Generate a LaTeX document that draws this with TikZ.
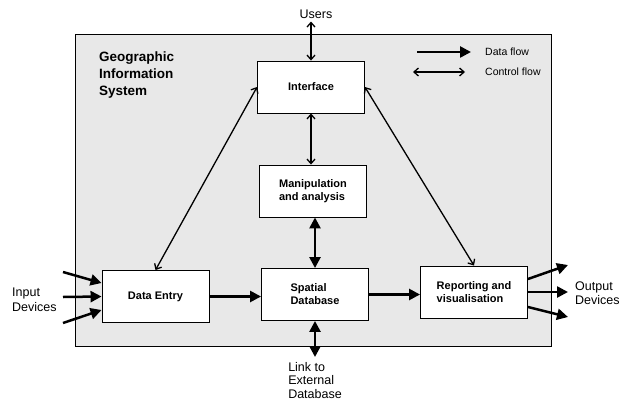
\documentclass[tikz,border=0pt]{standalone}
\usepackage{fontspec}
\setmainfont{Liberation Sans}
\usetikzlibrary{arrows.meta}

\begin{document}
\begin{tikzpicture}[x=1pt, y=-1pt,
    box/.style={draw, fill=white, line width=0.9pt, minimum width=107pt, minimum height=52pt,
        inner sep=0pt, align=left, font=\fontsize{11}{13}\selectfont\bfseries},
    lbl/.style={inner sep=0pt, align=left, font=\fontsize{12.5}{14.5}\selectfont},
    lgd/.style={inner sep=0pt, font=\fontsize{10.5}{12}\selectfont},
    dataflow/.style={line width=2.5pt, -{Triangle[length=11pt,width=11pt]}},
    databoth/.style={line width=2.5pt, {Triangle[length=11pt,width=11pt]}-{Triangle[length=11pt,width=11pt]}},
    ctrlflow/.style={line width=1.3pt, {Straight Barb[length=4.5pt,width=8pt]}-{Straight Barb[length=4.5pt,width=8pt]}}]
    \useasboundingbox (0,0) rectangle (631,404);

    \node[draw, fill=black!9, line width=1pt, minimum width=476pt, minimum height=311pt, inner sep=0pt] (gis) at (313,190.5) {};
    \node[anchor=west, inner sep=0pt, align=left, font=\fontsize{13.5}{17}\selectfont\bfseries] (title) at (99,75) {Geographic\\Information\\System};

    % legend
    \node[lgd, anchor=west] (dftxt) at (485,52) {Data flow};
    \node[lgd, anchor=west] (cftxt) at (485,72) {Control flow};
    \coordinate (dfs) at (417,52);
    \coordinate (cfs) at (413,72);
    \draw[dataflow] (dfs) -- ([xshift=-14pt]dftxt.west);
    \draw[ctrlflow] (cfs) -- ([xshift=-20pt]cftxt.west);

    % boxes
    \node[box] (iface) at (311,87) {Interface};
    \node[box] (manip) at (313,191) {Manipulation\\and analysis};
    \node[box] (entry) at (155.5,296.5) {Data Entry};
    \node[box] (sdb) at (315,294.5) {Spatial\\Database};
    \node[box, font=\fontsize{11}{12.5}\selectfont\bfseries] (report) at (474,292) {Reporting and\\visualisation};

    % outside
    \node[lbl] (users) at (316,14) {Users};
    \node[lbl, anchor=west] (indev) at (12,300) {Input\\Devices};
    \node[lbl, anchor=west] (outdev) at (575,293) {Output\\Devices};
    \node[lbl, anchor=north, font=\fontsize{12.5}{13.5}\selectfont] (link) at (315,362) {Link to\\External\\Database};

    % control flow
    \draw[ctrlflow] (iface.north |- users.south) ++(0,3) -- (iface.north);
    \draw[ctrlflow] (iface.south) -- (iface.south |- manip.north);
    \draw[ctrlflow] (iface.west) -- (entry.north);
    \draw[ctrlflow] (iface.east) -- (report.north);

    % data flow
    \draw[databoth] (manip.south -| sdb.north) -- (sdb.north);
    \draw[databoth] (sdb.south) -- ([yshift=5pt]link.north);
    \draw[dataflow] (entry.east) -- (entry.east -| sdb.west);
    \draw[dataflow] (sdb.east) -- (sdb.east -| report.west);

    \coordinate (in1) at (63,272);
    \coordinate (in2) at (63,297);
    \coordinate (in3) at (63,323);
    \draw[dataflow] (in1) -- ([yshift=13.5pt]entry.west);
    \draw[dataflow] (in2) -- (entry.west);
    \draw[dataflow] (in3) -- ([yshift=-13.5pt]entry.west);

    \coordinate (out1) at (568,265);
    \coordinate (out2) at (568,292);
    \coordinate (out3) at (568,317);
    \draw[dataflow] ([yshift=13pt]report.east) -- (out1);
    \draw[dataflow] (report.east) -- (out2);
    \draw[dataflow] ([yshift=-15pt]report.east) -- (out3);
\end{tikzpicture}
\end{document}
